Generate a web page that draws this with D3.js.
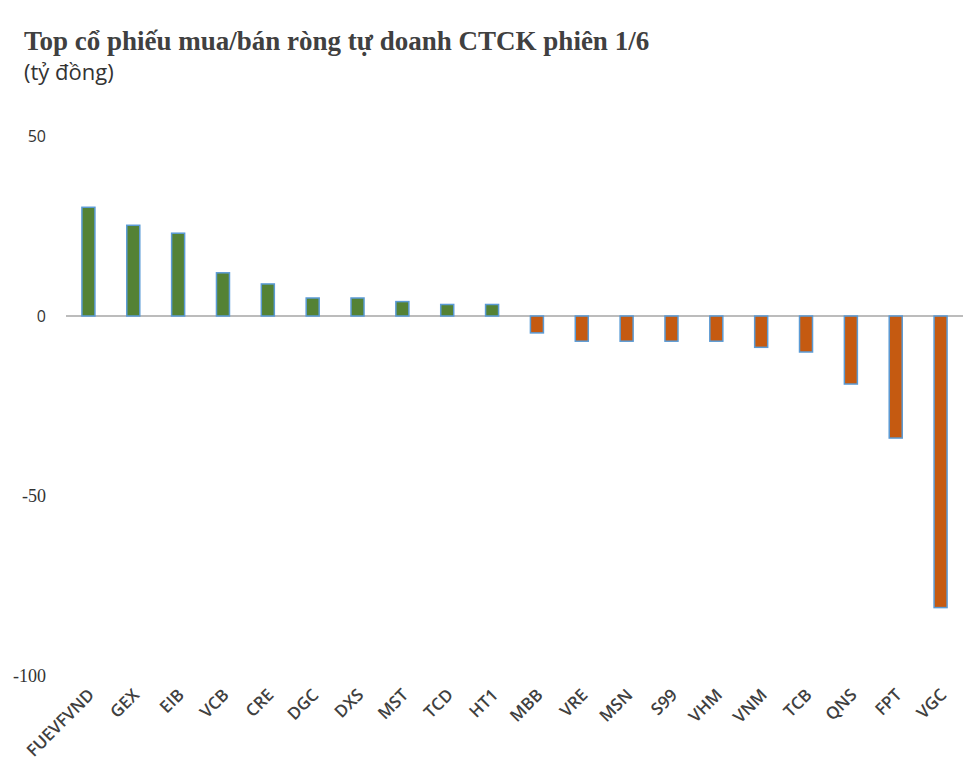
<!DOCTYPE html>
<html>
<head>
<meta charset="utf-8">
<script src="https://cdn.jsdelivr.net/npm/d3@7"></script>
<style>
  body { margin: 0; background: #fff; }
  .title { font-family: "Liberation Serif", "DejaVu Serif", serif; font-weight: bold; font-size: 27px; fill: #404040; }
  .unit { font-family: "Open Sans", "Noto Sans", sans-serif; font-size: 22px; fill: #333; }
  .xlab { font-family: "Open Sans", "Noto Sans", sans-serif; font-weight: 600; font-size: 17px; fill: #404040; }
  .ylab { fill: #333; }
</style>
</head>
<body>
<div id="chart"></div>
<script>
// ma co phieu
var tickers = ["FUEVFVND", "GEX", "EIB", "VCB", "CRE", "DGC", "DXS", "MST", "TCD", "HT1",
               "MBB", "VRE", "MSN", "S99", "VHM", "VNM", "TCB", "QNS", "FPT", "VGC"];
// gia tri mua/ban rong (ty dong)
var netValues = [30.2, 25.2, 23, 12, 8.9, 5, 5, 4, 3.2, 3.2,
                 -4.7, -7, -7, -7, -7, -8.7, -10, -18.9, -33.9, -81];
var yTicks = [50, 0, -50, -100];

var dim = {
    width: 974, height: 778,
    plot: { left: 66, right: 963, top: 136, bottom: 676 }
};

var svg = d3.select("#chart").append("svg")
        .attr("width", dim.width)
        .attr("height", dim.height);

svg.append("text")
        .attr("class", "title")
        .attr("x", 24)
        .attr("y", 50)
        .text("Top cổ phiếu mua/bán ròng tự doanh CTCK phiên 1/6");

svg.append("text")
        .attr("class", "unit")
        .attr("x", 24)
        .attr("y", 80)
        .text("(tỷ đồng)");

var x = d3.scaleBand()
        .domain(tickers)
        .range([dim.plot.left, dim.plot.right])
        .paddingInner(0.71)
        .paddingOuter(0.355);

var y = d3.scaleLinear()
        .domain([-100, 50])
        .range([dim.plot.bottom, dim.plot.top]);

// y labels, the negative ones came out in a serif face in the original
svg.append("g").selectAll("text")
    .data(yTicks)
    .enter().append("text")
        .attr("class", "ylab")
        .attr("x", 46)
        .attr("y", function(d) { return y(d); })
        .attr("dy", "0.35em")
        .attr("text-anchor", "end")
        .style("font-family", function(d) {
            return d < 0 ? "'Liberation Serif', serif" : "'Open Sans', sans-serif";
        })
        .style("font-size", function(d) { return d < 0 ? "18px" : "16px"; })
        .text(function(d) { return d; });

svg.append("line")
        .attr("x1", dim.plot.left)
        .attr("x2", dim.plot.right)
        .attr("y1", y(0))
        .attr("y2", y(0))
        .attr("stroke", "#a6a6a6")
        .attr("stroke-width", 1.5);

svg.append("g").selectAll("rect")
    .data(tickers)
    .enter().append("rect")
        .attr("x", function(d) { return x(d); })
        .attr("width", x.bandwidth())
        .attr("y", function(d, i) { return y(Math.max(0, netValues[i])); })
        .attr("height", function(d, i) { return Math.abs(y(netValues[i]) - y(0)); })
        .attr("fill", function(d, i) { return netValues[i] >= 0 ? "#548235" : "#c55a11"; })
        .attr("stroke", "#5b9bd5")
        .attr("stroke-width", 1.5);

svg.append("g").selectAll("text")
    .data(tickers)
    .enter().append("text")
        .attr("class", "xlab")
        .attr("text-anchor", "end")
        .attr("transform", function(d) {
            return "translate(" + (x(d) + x.bandwidth() / 2 + 7) + ",696) rotate(-45)";
        })
        .text(function(d) { return d; });
</script>
</body>
</html>
